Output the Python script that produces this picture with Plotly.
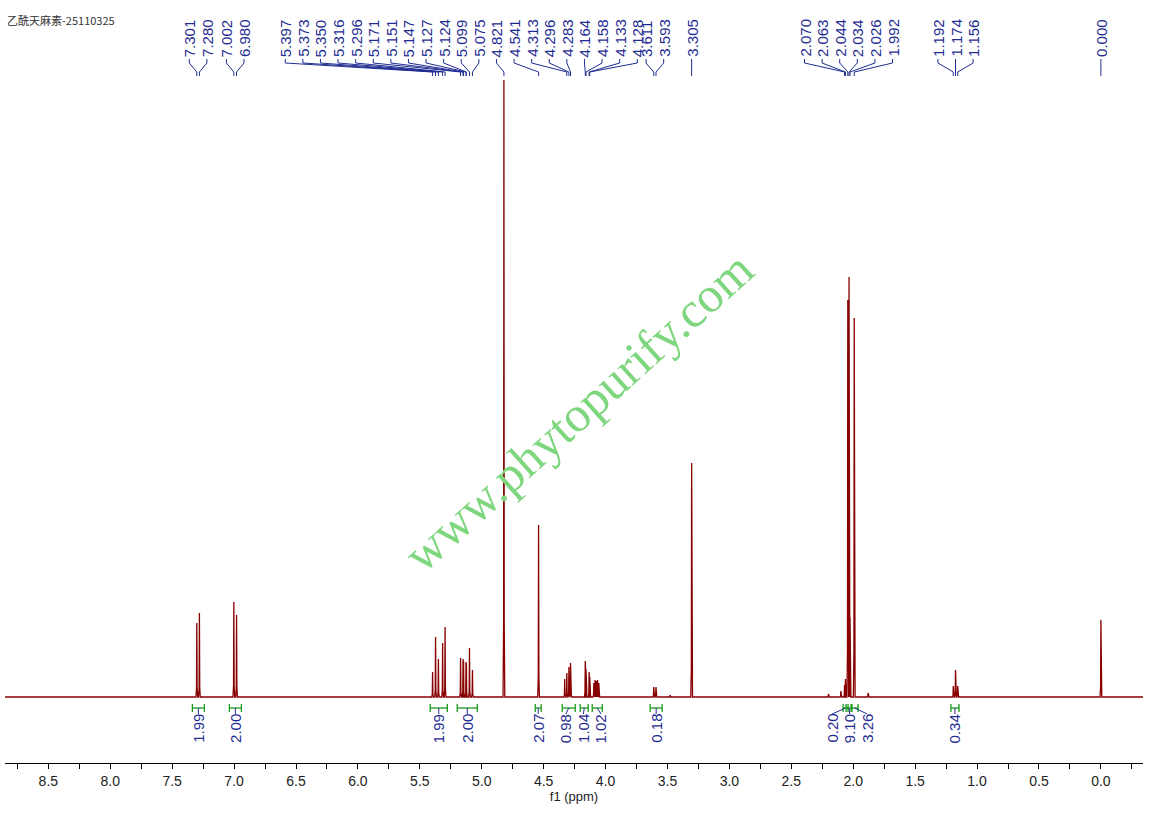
import plotly.graph_objects as go

# ---------------- data ----------------
title_text = "乙酰天麻素-25110325"

# spectrum lines: chemical shift (ppm) and relative intensity
peak_ppm = [7.301, 7.280, 7.002, 6.980,
            5.397, 5.373, 5.350, 5.316, 5.296,
            5.171, 5.151, 5.147, 5.127, 5.124, 5.099, 5.075,
            4.821, 4.541,
            4.330, 4.313, 4.296, 4.283,
            4.164, 4.158, 4.133, 4.128,
            4.095, 4.085, 4.075, 4.065, 4.055,
            3.611, 3.593, 3.480, 3.305,
            2.200, 2.100, 2.070, 2.063, 2.044, 2.034, 2.026, 1.992, 1.880,
            1.192, 1.174, 1.156, 0.000]
peak_int = [74, 84, 95, 82,
            25, 60, 38, 54, 70,
            39, 38, 36, 35, 34, 49, 27,
            617, 172,
            18, 24, 30, 34,
            36, 28, 25, 20,
            14, 17, 16, 17, 14,
            10, 10, 2, 234,
            3, 6, 12, 18, 397, 420, 80, 379, 4,
            11, 27, 11, 77]

# peak-pick labels shown above the spectrum, and how they are grouped in fans
label_ppm = [7.301, 7.280, 7.002, 6.980,
             5.397, 5.373, 5.350, 5.316, 5.296, 5.171, 5.151, 5.147, 5.127,
             5.124, 5.099, 5.075, 4.821, 4.541, 4.313, 4.296, 4.283,
             4.164, 4.158, 4.133, 4.128,
             3.611, 3.593, 3.305,
             2.070, 2.063, 2.044, 2.034, 2.026, 1.992,
             1.192, 1.174, 1.156, 0.000]
label_groups = [2, 2, 21, 2, 1, 6, 3, 1]

# integrals
int_values = ["1.99", "2.00", "1.99", "2.00", "2.07", "0.98", "1.04", "1.02",
              "0.18", "0.20", "9.10", "3.26", "0.34"]
int_from = [7.337, 7.038, 5.416, 5.198, 4.568, 4.350, 4.205, 4.108,
            3.640, 2.082, 2.058, 2.018, 1.211]
int_to = [7.240, 6.941, 5.278, 5.036, 4.520, 4.245, 4.140, 4.027,
          3.543, 2.042, 2.010, 1.961, 1.146]
int_groups = [1, 1, 1, 1, 1, 3, 1, 3, 1]

tick_vals = [8.5, 8.0, 7.5, 7.0, 6.5, 6.0, 5.5, 5.0, 4.5, 4.0, 3.5, 3.0,
             2.5, 2.0, 1.5, 1.0, 0.5, 0.0]
tick_text = ["8.5", "8.0", "7.5", "7.0", "6.5", "6.0", "5.5", "5.0", "4.5",
             "4.0", "3.5", "3.0", "2.5", "2.0", "1.5", "1.0", "0.5", "0.0"]
axis_title = "f1 (ppm)"
watermark = "www.phytopurify.com"

# ---------------- layout constants ----------------
W, H = 1149, 815
ML, MR, MT, MB = 5, 6, 80, 52
X0, X1 = 8.85, -0.34           # ppm range (reversed)
Y0, Y1 = -66, 617              # intensity range
PW = W - ML - MR
PH = H - MT - MB
PX_PER_PPM = PW / (X0 - X1)

RED = "#880000"
BLUE = "#1f2d92"
GREEN = "#1a9a1a"
LABEL_FONT = dict(family="Liberation Sans, Arial", size=15, color=BLUE)


def to_px(ppm):
    return ML + (X0 - ppm) * PX_PER_PPM


def to_ppm(px):
    return X0 - (px - ML) / PX_PER_PPM


def ypaper(pix):
    return (H - MB - pix) / PH


def place(ppms, groups, spacing):
    """Spread labels of each group evenly around the group's centre and
    push groups left so they do not run into the following group."""
    pxs = [to_px(p) for p in ppms]
    blocks, i = [], 0
    for n in groups:
        pts = pxs[i:i + n]
        c = sum(pts) / n
        blocks.append([c - spacing * (n - 1) / 2 + spacing * k for k in range(n)])
        i += n
    for b in range(len(blocks) - 2, -1, -1):
        nxt = blocks[b + 1]
        limit = sum(nxt) / len(nxt) - spacing
        over = blocks[b][-1] - limit
        if over > 0:
            blocks[b] = [v - over for v in blocks[b]]
    return [to_ppm(v) for blk in blocks for v in blk]


# ---------------- spectrum trace ----------------
hw = 0.007
order = sorted(range(len(peak_ppm)), key=lambda k: -peak_ppm[k])
xs, ys = [X0], [0]
for k in order:
    p, h = peak_ppm[k], peak_int[k]
    xs += [p + hw, p + hw * 0.35, p, p - hw * 0.35, p - hw]
    ys += [0, h * 0.12, h, h * 0.12, 0]
xs.append(X1)
ys.append(0)

fig = go.Figure()
fig.add_trace(go.Scatter(x=xs, y=ys, mode="lines",
                         line=dict(color=RED, width=1.3),
                         hoverinfo="skip", showlegend=False))

shapes = []
annotations = []

# ---------------- peak labels ----------------
lab_pos = place(label_ppm, label_groups, 17.6)
path = ""
for lp, pk in zip(lab_pos, label_ppm):
    path += (f"M {lp:.5f} {ypaper(59):.5f} L {lp:.5f} {ypaper(63):.5f} "
             f"L {pk:.5f} {ypaper(72):.5f} L {pk:.5f} {ypaper(76):.5f} ")
    annotations.append(dict(x=lp, y=ypaper(58), xref="x", yref="paper",
                            text=f"{pk:.3f}", showarrow=False, textangle=-90,
                            xanchor="center", yanchor="bottom", borderpad=0,
                            font=LABEL_FONT))
shapes.append(dict(type="path", path=path, xref="x", yref="paper",
                   line=dict(color=BLUE, width=1)))

# ---------------- integrals ----------------
int_centres = [(a + b) / 2 for a, b in zip(int_from, int_to)]
int_lab = place(int_centres, int_groups, 17.6)
for a, b, c, lp, v in zip(int_from, int_to, int_centres, int_lab, int_values):
    shapes.append(dict(type="line", x0=a, x1=b, y0=-11, y1=-11, xref="x", yref="y",
                       line=dict(color=GREEN, width=1.3)))
    for e in (a, b):
        shapes.append(dict(type="line", x0=e, x1=e, y0=-7, y1=-15, xref="x", yref="y",
                           line=dict(color=GREEN, width=1.3)))
    shapes.append(dict(type="line", x0=c, x1=lp, y0=-11, y1=-17, xref="x", yref="y",
                       line=dict(color=BLUE, width=1)))
    annotations.append(dict(x=lp, y=-16, xref="x", yref="y", text=v,
                            showarrow=False, textangle=-90, xanchor="center",
                            yanchor="top", borderpad=0, font=LABEL_FONT))

# ---------------- title & watermark ----------------
annotations.append(dict(x=0, y=ypaper(20), xref="paper", yref="paper",
                        text=title_text, showarrow=False, xanchor="left",
                        yanchor="middle",
                        font=dict(family="Noto Sans CJK SC", size=11, color="#333333")))
annotations.append(dict(x=(578 - ML) / PW, y=ypaper(412), xref="paper", yref="paper",
                        text=watermark, showarrow=False, textangle=-42,
                        xanchor="center", yanchor="middle",
                        font=dict(family="Liberation Serif, Times New Roman",
                                  size=50, color="#7ed67e")))

fig.update_layout(
    width=W, height=H,
    margin=dict(l=ML, r=MR, t=MT, b=MB),
    paper_bgcolor="white", plot_bgcolor="white",
    shapes=shapes, annotations=annotations,
    showlegend=False,
    xaxis=dict(range=[X0, X1], showgrid=False, zeroline=False,
               showline=True, linecolor="black", linewidth=1,
               ticks="outside", ticklen=5, tickcolor="black",
               tickmode="array", tickvals=tick_vals, ticktext=tick_text,
               tickfont=dict(family="Liberation Sans Narrow, Liberation Sans, Arial",
                             size=14, color="#222222"),
               minor=dict(dtick=0.25, tick0=0, ticks="outside", ticklen=5,
                          tickcolor="black", showgrid=False),
               title=dict(text=axis_title, standoff=2,
                          font=dict(family="Liberation Sans, Arial", size=13,
                                    color="#222222"))),
    yaxis=dict(range=[Y0, Y1], visible=False, fixedrange=True),
)

fig.write_html("out.html",
               config={"displayModeBar": False},
               post_script="document.body.style.margin='0';"
                           "document.body.style.overflow='hidden';")
